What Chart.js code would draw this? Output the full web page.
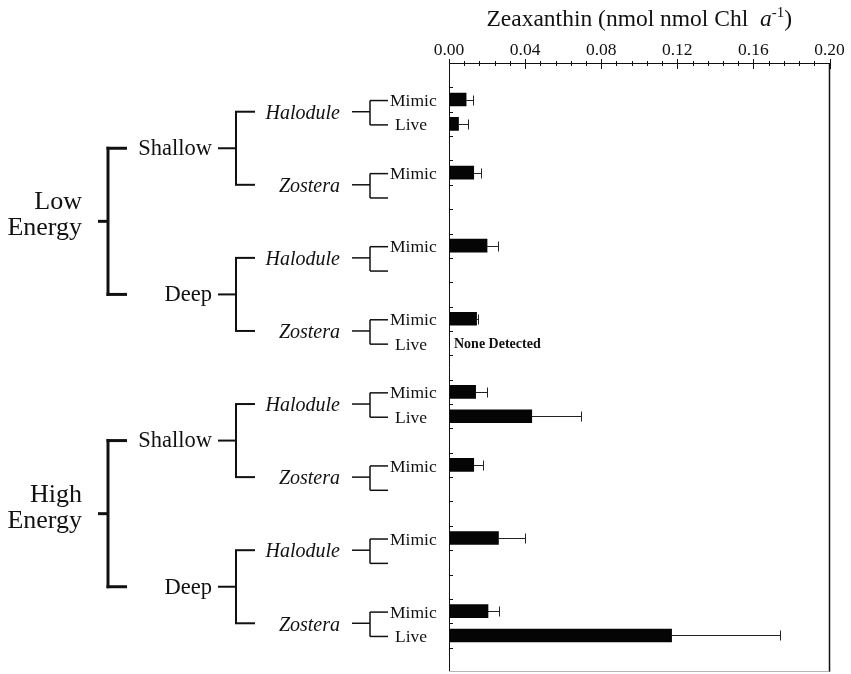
<!DOCTYPE html>
<html>
<head>
<meta charset="utf-8">
<script src="https://cdn.jsdelivr.net/npm/chart.js@4/dist/chart.umd.min.js"></script>
<style>
  html, body { margin: 0; padding: 0; background: #fff; }
  #wrap { width: 851px; height: 674px; }
</style>
</head>
<body>
<div id="wrap"><canvas id="chart" width="851" height="674"></canvas></div>
<script>
// Hierarchy of the sampling design
const energyLevels = ['Low Energy', 'High Energy'];
const depthLevels = ['Shallow', 'Deep'];
const genera = ['Halodule', 'Zostera'];
const treatments = ['Mimic', 'Live'];

// One entry per energy × depth × genus (in plotting order)
const mimicValues = [0.009, 0.013, 0.020, 0.0145, 0.014, 0.013, 0.026, 0.0205];
const mimicErrors = [0.0035, 0.004, 0.006, 0.001, 0.006, 0.005, 0.014, 0.006];
// null = not sampled, 0 = none detected
const liveValues = [0.005, null, null, 0, 0.0435, null, null, 0.117];
const liveErrors = [0.005, null, null, null, 0.026, null, null, 0.057];

const xTickValues = [0, 0.04, 0.08, 0.12, 0.16, 0.20];
const xTickLabels = ['0.00', '0.04', '0.08', '0.12', '0.16', '0.20'];
const xMinorStep = 0.008;
const noneDetectedText = 'None Detected';

// Each group gets a spacer slot, then Mimic and Live slots; one spacer closes the axis
const slotLabels = [];
const slotValues = [];
const slotErrors = [];
mimicValues.forEach((m, g) => {
  slotLabels.push('', treatments[0], treatments[1]);
  slotValues.push(null, m, liveValues[g]);
  slotErrors.push(null, mimicErrors[g], liveErrors[g]);
});
slotLabels.push('');
slotValues.push(null);
slotErrors.push(null);

const SERIF = '"Liberation Serif", "Times New Roman", serif';
Chart.defaults.font.family = SERIF;
Chart.defaults.color = '#111';

const decorPlugin = {
  id: 'decor',
  afterDraw(chart) {
    const { ctx, chartArea: a, scales: { x, y } } = chart;
    const ink = '#111';
    ctx.save();

    // plot frame
    ctx.lineWidth = 1;
    ctx.strokeStyle = ink;
    ctx.beginPath();
    ctx.moveTo(a.left + 0.5, a.bottom);
    ctx.lineTo(a.left + 0.5, a.top + 0.5);
    ctx.lineTo(a.right, a.top + 0.5);
    ctx.stroke();
    ctx.lineWidth = 1.5;
    ctx.beginPath();
    ctx.moveTo(a.right, a.top);
    ctx.lineTo(a.right, a.bottom);
    ctx.stroke();
    ctx.lineWidth = 1;
    ctx.strokeStyle = '#b5b5b5';
    ctx.beginPath();
    ctx.moveTo(a.left, a.bottom - 0.5);
    ctx.lineTo(a.right, a.bottom - 0.5);
    ctx.stroke();

    // x ticks crossing the top axis
    ctx.strokeStyle = ink;
    ctx.lineWidth = 1;
    const nMinor = Math.round((x.max - x.min) / xMinorStep);
    for (let i = 0; i <= nMinor; i++) {
      const v = x.min + i * xMinorStep;
      const px = Math.round(x.getPixelForValue(v)) + 0.5;
      const major = i % 5 === 0;
      ctx.beginPath();
      ctx.moveTo(px, a.top - (major ? 4 : 2));
      ctx.lineTo(px, a.top + (major ? 6 : 3));
      ctx.stroke();
    }

    // x tick labels
    ctx.fillStyle = ink;
    ctx.font = '17.5px ' + SERIF;
    ctx.textAlign = 'center';
    ctx.textBaseline = 'alphabetic';
    xTickValues.forEach((v, i) => {
      ctx.fillText(xTickLabels[i], x.getPixelForValue(v), 55);
    });

    // y ticks pointing into the plot at slot boundaries
    for (let i = 0; i < slotLabels.length - 1; i++) {
      const py = Math.round((y.getPixelForValue(i) + y.getPixelForValue(i + 1)) / 2) + 0.5;
      ctx.beginPath();
      ctx.moveTo(a.left, py);
      ctx.lineTo(a.left + 4, py);
      ctx.stroke();
    }

    // error bars
    const meta = chart.getDatasetMeta(0);
    ctx.strokeStyle = '#222';
    ctx.lineWidth = 1;
    slotValues.forEach((v, i) => {
      const e = slotErrors[i];
      if (v === null || e === null || !v) return;
      const bar = meta.data[i];
      const x0 = x.getPixelForValue(v);
      const x1 = Math.round(x.getPixelForValue(v + e)) + 0.5;
      const py = Math.round(bar.y) + 0.5;
      ctx.beginPath();
      ctx.moveTo(x0, py);
      ctx.lineTo(x1, py);
      ctx.moveTo(x1, py - 5);
      ctx.lineTo(x1, py + 5);
      ctx.stroke();
    });

    // "None Detected" marker for zero values
    ctx.textBaseline = 'middle';
    ctx.textAlign = 'left';
    slotValues.forEach((v, i) => {
      if (v === 0) {
        ctx.font = 'bold 14px ' + SERIF;
        ctx.fillText(noneDetectedText, x.getPixelForValue(0) + 5, y.getPixelForValue(i) + 1);
      }
    });

    // axis title with italic a and superscript
    const parts = [
      { t: 'Zeaxanthin (nmol nmol Chl  ', f: '23.5px ' + SERIF, dy: 0 },
      { t: 'a', f: 'italic 23.5px ' + SERIF, dy: 0 },
      { t: '-1', f: '15px ' + SERIF, dy: -9 },
      { t: ')', f: '23.5px ' + SERIF, dy: 0 }
    ];
    let total = 0;
    parts.forEach(p => { ctx.font = p.f; p.w = ctx.measureText(p.t).width; total += p.w; });
    let tx = (a.left + a.right) / 2 - total / 2;
    ctx.textBaseline = 'alphabetic';
    parts.forEach(p => { ctx.font = p.f; ctx.fillText(p.t, tx, 26 + p.dy); tx += p.w; });

    // classification tree on the left
    const line = (x1, y1, x2, y2, w) => {
      ctx.lineWidth = w;
      ctx.beginPath();
      ctx.moveTo(x1, y1);
      ctx.lineTo(x2, y2);
      ctx.stroke();
    };
    ctx.strokeStyle = ink;
    const genusMid = [];
    mimicValues.forEach((m, g) => {
      const mY = y.getPixelForValue(3 * g + 1);
      const lY = y.getPixelForValue(3 * g + 2);
      const mid = (mY + lY) / 2;
      genusMid.push(mid);
      line(352, mid, 370, mid, 1.5);
      line(370, mY + 1, 370, lY + 1, 1.5);
      line(370, mY + 1, 388, mY + 1, 1.5);
      line(370, lY + 1, 388, lY + 1, 1.5);
      ctx.font = '17.5px ' + SERIF;
      ctx.textAlign = 'left';
      ctx.textBaseline = 'middle';
      ctx.fillText(treatments[0], 390, mY + 2);
      if (liveValues[g] !== null) ctx.fillText(treatments[1], 395, lY + 2);
      ctx.font = 'italic 20px ' + SERIF;
      ctx.textAlign = 'right';
      ctx.fillText(genera[g % 2], 340, mid + 2);
    });

    energyLevels.forEach((eName, e) => {
      const depthMid = [];
      depthLevels.forEach((dName, d) => {
        const g0 = genusMid[e * 4 + d * 2];
        const g1 = genusMid[e * 4 + d * 2 + 1];
        const mid = (g0 + g1) / 2;
        depthMid.push(mid);
        line(236, g0, 236, g1, 2);
        line(235, g0, 255, g0, 2);
        line(235, g1, 255, g1, 2);
        line(218, mid, 236, mid, 2);
        ctx.font = '22.5px ' + SERIF;
        ctx.textAlign = 'right';
        ctx.textBaseline = 'middle';
        ctx.fillText(dName, 212, mid + 1);
      });
      const mid = (depthMid[0] + depthMid[1]) / 2;
      line(108, depthMid[0] - 1.5, 108, depthMid[1] + 1.5, 3);
      line(106.5, depthMid[0], 127, depthMid[0], 3);
      line(106.5, depthMid[1], 127, depthMid[1], 3);
      line(98, mid, 108, mid, 3);
      ctx.font = '26px ' + SERIF;
      ctx.textAlign = 'right';
      ctx.textBaseline = 'alphabetic';
      const words = eName.split(' ');
      ctx.fillText(words[0], 82, mid - 12);
      ctx.fillText(words[1], 82, mid + 14);
    });

    ctx.restore();
  }
};

new Chart(document.getElementById('chart'), {
  type: 'bar',
  data: {
    labels: slotLabels,
    datasets: [{
      data: slotValues,
      backgroundColor: '#050505',
      borderWidth: 0,
      barThickness: 13
    }]
  },
  options: {
    indexAxis: 'y',
    responsive: false,
    animation: false,
    layout: { padding: { left: 449, right: 21.5, top: 0, bottom: 2 } },
    plugins: {
      legend: { display: false },
      tooltip: { enabled: false },
      title: { display: false }
    },
    scales: {
      x: {
        position: 'top',
        min: 0,
        max: 0.2,
        afterBuildTicks: s => { s.ticks = xTickValues.map(v => ({ value: v })); },
        afterFit: s => { s.height = 63; },
        ticks: { display: false },
        grid: { display: false },
        border: { display: false }
      },
      y: {
        type: 'category',
        display: false,
        offset: true
      }
    }
  },
  plugins: [decorPlugin]
});
</script>
</body>
</html>
